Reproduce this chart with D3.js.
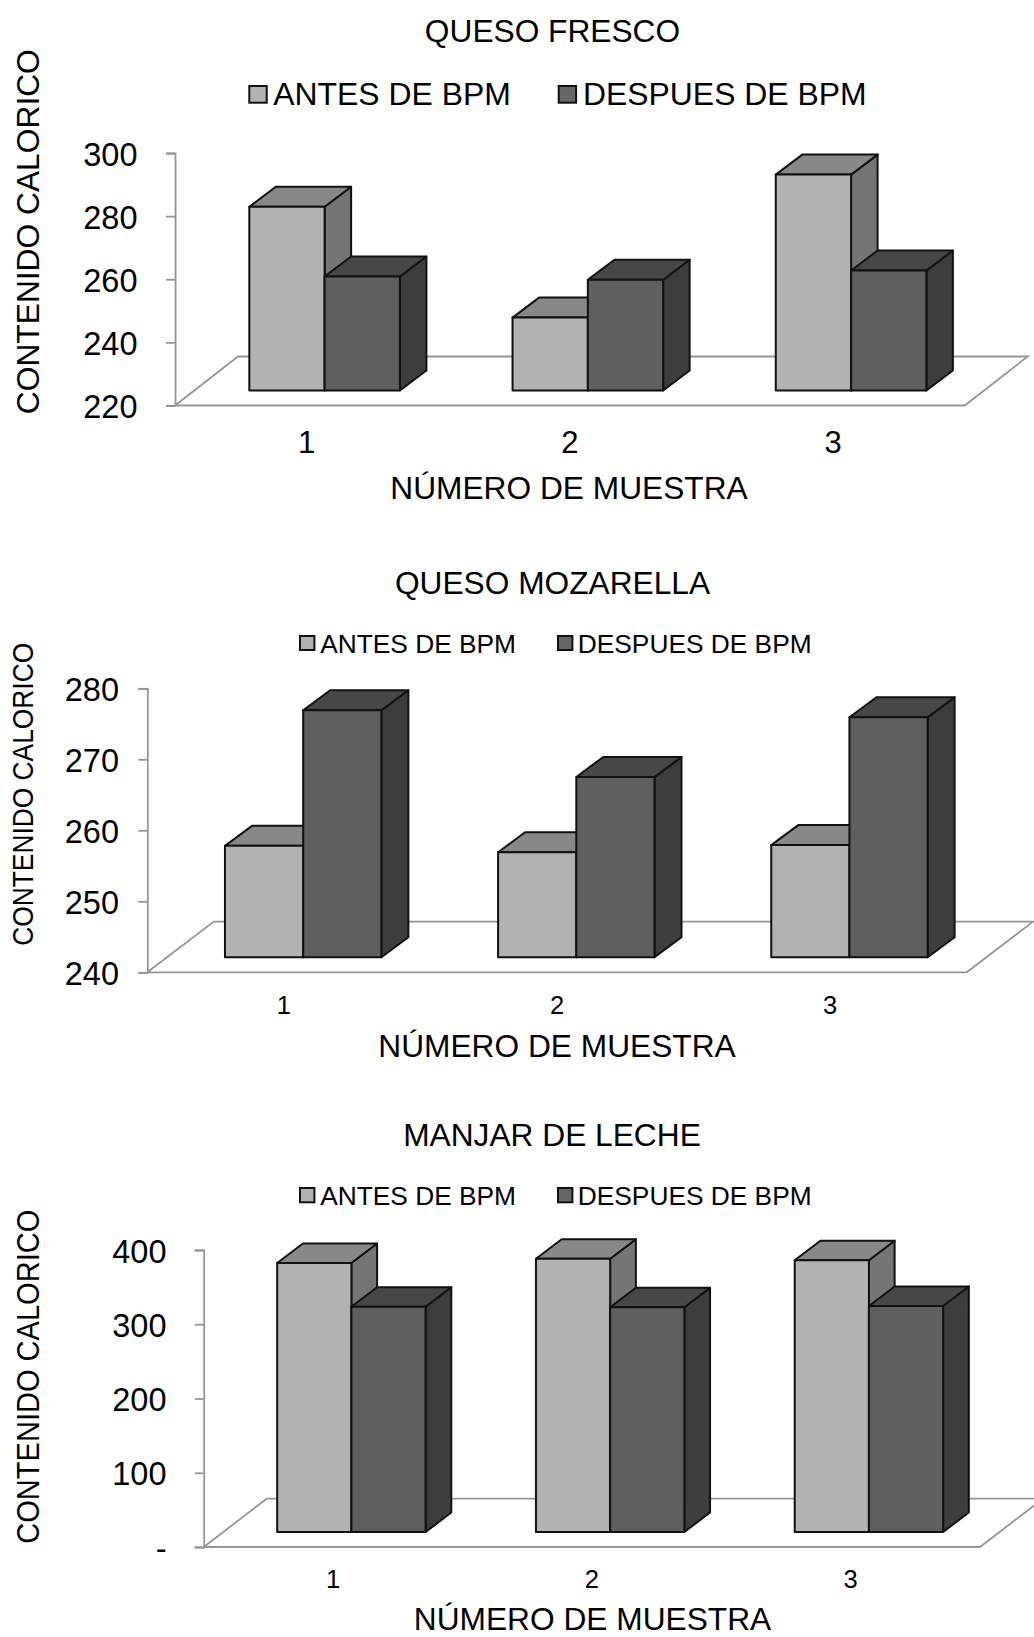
<!DOCTYPE html>
<html>
<head>
<meta charset="utf-8">
<script src="https://cdn.jsdelivr.net/npm/d3@7"></script>
<style>
  body { margin: 0; background: #fff; }
  svg { display: block; }
  text { font-family: "Liberation Sans", Arial, sans-serif; fill: #000; }
</style>
</head>
<body>
<div id="wrapper"></div>
<script>
// Data
const samples = ["1", "2", "3"]
const seriesNames = ["ANTES DE BPM", "DESPUES DE BPM"]

const frescoAntes = [278.2, 243.1, 288.4]
const frescoDespues = [256.1, 255.1, 258.0]
const frescoTicks = [220, 240, 260, 280, 300]

const mozarellaAntes = [255.7, 254.8, 255.8]
const mozarellaDespues = [274.8, 265.4, 273.8]
const mozarellaTicks = [240, 250, 260, 270, 280]

const manjarAntes = [362.3, 368.1, 365.9]
const manjarDespues = [303.4, 302.6, 304.4]
const manjarTicks = [0, 100, 200, 300, 400]

const yTitle = "CONTENIDO CALORICO"
const xTitle = "NÚMERO DE MUESTRA"

// Greys: [front, top, side]
const shades = [
    ["#b2b2b2", "#888888", "#757575"],
    ["#5f5f5f", "#474747", "#3d3d3d"],
]

// One layout per chart, everything in page pixels
const charts = [
    {
        title: "QUESO FRESCO", antes: frescoAntes, despues: frescoDespues, ticks: frescoTicks,
        axisX: 175, floorRight: 964.7, yTop: 153, yBottom: 405.5,
        floorDepth: [63, 49], barWidth: 75.3, barDepth: [26.5, 20], barShift: 18, barDrop: 15,
        titleX: 552.5, titleY: 41.7,
        legendY: 105, legendSize: 31.9, swatch: [249.3, 86, 17.4, 16.7], legendText: [273.3, 583], swatch2X: 558.7,
        tickX: 137.5, tickSize: 31, tickBase: 453,
        xTitleX: 569, xTitleY: 499,
        yTitleX: 39.3, yTitleY: 231.7, yTitleLen: 365, yTitleSize: 32,
    },
    {
        title: "QUESO MOZARELLA", antes: mozarellaAntes, despues: mozarellaDespues, ticks: mozarellaTicks,
        axisX: 147.3, floorRight: 966.7, yTop: 688.3, yBottom: 972.3,
        floorDepth: [66.5, 50.7], barWidth: 78.2, barDepth: [27, 20], barShift: 19.3, barDrop: 15,
        titleX: 552.5, titleY: 594,
        legendY: 652.7, legendSize: 26.3, swatch: [300, 636, 14.4, 14], legendText: [320.2, 577.8], swatch2X: 558,
        tickX: 119, tickSize: 25.5, tickBase: 1014,
        xTitleX: 557, xTitleY: 1057.3,
        yTitleX: 33.3, yTitleY: 794.3, yTitleLen: 303, yTitleSize: 29,
    },
    {
        title: "MANJAR DE LECHE", antes: manjarAntes, despues: manjarDespues, ticks: manjarTicks,
        axisX: 203.7, floorRight: 980, yTop: 1250, yBottom: 1547,
        floorDepth: [63, 48.3], barWidth: 74.2, barDepth: [25.7, 19.5], barShift: 18.3, barDrop: 15,
        titleX: 552, titleY: 1146.3,
        legendY: 1205, legendSize: 26.3, swatch: [300, 1188, 14.4, 14.3], legendText: [320.2, 577.8], swatch2X: 558,
        tickX: 166.5, tickSize: 25.5, tickBase: 1587.7,
        xTitleX: 592.5, xTitleY: 1630,
        yTitleX: 38.7, yTitleY: 1376.7, yTitleLen: 334, yTitleSize: 31,
    },
]

const svg = d3.select("#wrapper")
    .append("svg")
    .attr("width", 1034)
    .attr("height", 1637)

charts.forEach(drawChart)

function drawChart(c) {
    const g = svg.append("g")

    // Scales
    const yScale = d3.scaleLinear()
        .domain(d3.extent(c.ticks))
        .range([c.yBottom, c.yTop])

    const xScale = d3.scaleBand()
        .domain(samples)
        .range([c.axisX, c.floorRight])

    const seriesScale = d3.scaleBand()
        .domain(seriesNames)
        .range([-c.barWidth, c.barWidth])

    // Floor
    const [fdx, fdy] = c.floorDepth
    g.append("path")
        .attr("d", d3.line()([
            [c.axisX, c.yBottom],
            [c.axisX + fdx, c.yBottom - fdy],
            [c.floorRight + fdx, c.yBottom - fdy],
            [c.floorRight, c.yBottom],
            [c.axisX, c.yBottom],
        ]))
        .attr("fill", "#fff")
        .attr("stroke", "#969696")
        .attr("stroke-width", 1.8)

    // Axes
    const yAxis = g.append("g")
        .attr("transform", `translate(${c.axisX},0)`)
        .call(d3.axisLeft(yScale)
            .tickValues(c.ticks)
            .tickSize(9)
            .tickPadding(c.axisX - 9 - c.tickX)
            .tickFormat(d => d === 0 ? "-" : d))
    yAxis.selectAll("path, line")
        .attr("stroke", "#969696")
        .attr("stroke-width", 1.8)
    yAxis.selectAll("text")
        .attr("font-size", 32.5)
        .attr("dy", "0.37em")

    const xAxis = g.append("g")
        .attr("transform", `translate(0,${c.tickBase})`)
        .call(d3.axisBottom(xScale).tickSize(0).tickPadding(0))
    xAxis.select(".domain").remove()
    xAxis.selectAll("text")
        .attr("font-size", c.tickSize)
        .attr("y", 0)
        .attr("dy", 0)

    // Bars, left to right so the dark front hides the light side
    const [bdx, bdy] = c.barDepth
    const baseY = c.yBottom - c.barDrop
    const values = [c.antes, c.despues]

    samples.forEach((sample, i) => {
        seriesNames.forEach((name, s) => {
            const x0 = xScale(sample) + xScale.bandwidth() / 2 + c.barShift + seriesScale(name)
            const x1 = x0 + seriesScale.bandwidth()
            const top = yScale(values[s][i]) - c.barDrop
            const bar = g.append("g")
                .attr("stroke", "#111")
                .attr("stroke-width", 2)
                .attr("stroke-linejoin", "round")
            bar.append("path")
                .attr("fill", shades[s][2])
                .attr("d", d3.line()([[x1, top], [x1 + bdx, top - bdy], [x1 + bdx, baseY - bdy], [x1, baseY]]) + "Z")
            bar.append("path")
                .attr("fill", shades[s][1])
                .attr("d", d3.line()([[x0, top], [x0 + bdx, top - bdy], [x1 + bdx, top - bdy], [x1, top]]) + "Z")
            bar.append("rect")
                .attr("x", x0)
                .attr("y", top)
                .attr("width", x1 - x0)
                .attr("height", baseY - top)
                .attr("fill", shades[s][0])
        })
    })

    // Title
    g.append("text")
        .attr("x", c.titleX)
        .attr("y", c.titleY)
        .attr("text-anchor", "middle")
        .attr("font-size", 31.7)
        .text(c.title)

    // Legend
    const [sx, sy, sw, sh] = c.swatch
    seriesNames.forEach((name, s) => {
        g.append("rect")
            .attr("x", s === 0 ? sx : c.swatch2X)
            .attr("y", sy)
            .attr("width", sw)
            .attr("height", sh)
            .attr("fill", s === 0 ? shades[0][0] : "#666666")
            .attr("stroke", "#111")
            .attr("stroke-width", 2)
        g.append("text")
            .attr("x", c.legendText[s])
            .attr("y", c.legendY)
            .attr("font-size", c.legendSize)
            .text(name)
    })

    // Axis titles
    g.append("text")
        .attr("x", c.xTitleX)
        .attr("y", c.xTitleY)
        .attr("text-anchor", "middle")
        .attr("font-size", 31.7)
        .text(xTitle)

    g.append("text")
        .attr("transform", `translate(${c.yTitleX},${c.yTitleY}) rotate(-90)`)
        .attr("text-anchor", "middle")
        .attr("font-size", c.yTitleSize)
        .attr("textLength", c.yTitleLen)
        .attr("lengthAdjust", "spacingAndGlyphs")
        .text(yTitle)
}
</script>
</body>
</html>
